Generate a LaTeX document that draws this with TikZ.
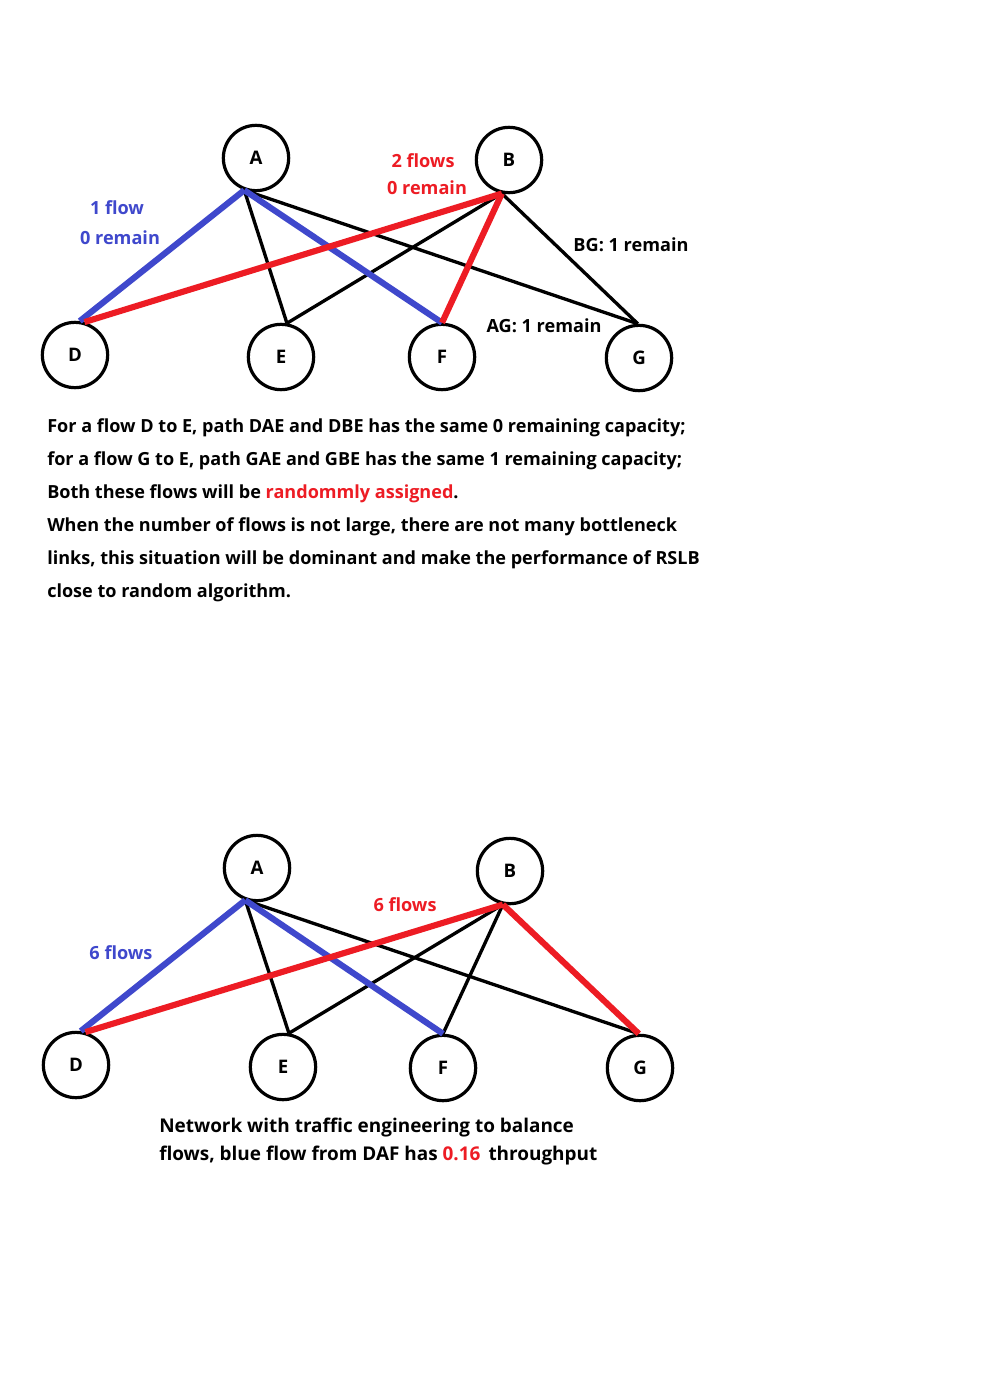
\documentclass[tikz,border=0pt]{standalone}
\usepackage{fontspec}
\setmainfont{Open Sans}
\definecolor{pblue}{HTML}{3F48CC}
\definecolor{pred}{HTML}{ED1C24}
\begin{document}
\begin{tikzpicture}[x=0.75pt,y=-0.75pt,
  vert/.style={circle,draw=black,line width=2.4pt,minimum size=49pt,inner sep=0pt,font=\fontsize{14}{16}\selectfont\bfseries},
  thin/.style={draw=black,line width=2.5pt},
  bluef/.style={draw=pblue,line width=4.6pt},
  redf/.style={draw=pred,line width=4.6pt},
  lbl/.style={inner sep=0pt,font=\fontsize{13.6}{16}\selectfont\bfseries},
  blbl/.style={inner sep=0pt,font=\fontsize{13.6}{16}\selectfont\bfseries},
  para/.style={inner sep=0pt,anchor=west,font=\fontsize{13.55}{16}\selectfont\bfseries},
  capt/.style={inner sep=0pt,anchor=west,font=\fontsize{14.2}{16}\selectfont\bfseries}]
\useasboundingbox[fill=white] (0,0) rectangle (986,1391);
% ---------- top graph ----------
\node[vert] (A) at (256,158) {A};
\node[vert] (B) at (509,160) {B};
\node[vert] (D) at (75,355) {D};
\node[vert] (E) at (281,357) {E};
\node[vert] (F) at (442,357) {F};
\node[vert] (G) at (639,358) {G};
\path[thin] (A.250) -- (E.80);
\path[thin] (A.250) -- (G.92);
\path[thin] (B.258) -- (E.80);
\path[thin] (B.258) -- (G.92);
\path[bluef] (A.250) -- (D.82);
\path[bluef] (A.250) -- (F.90);
\path[redf] (B.258) -- (D.74);
\path[redf] (B.258) -- (F.90);
\node[lbl,text=pblue] (l1) at (117,208) {1 flow};
\node[blbl,text=pblue] (l2) at (120,238) {0 remain};
\node[lbl,text=pred] (l3) at (423,161) {2 flows};
\node[blbl,text=pred] (l4) at (427,188) {0 remain};
\node[blbl] (l5) at (631,245) {BG: 1 remain};
\node[blbl] (l6) at (544,326) {AG: 1 remain};
% ---------- paragraph ----------
\node[para] (p1) at (47,428) {For a flow D to E, path DAE and DBE has the same 0 remaining capacity;};
\node[para] (p2) at (47,461) {for a flow G to E, path GAE and GBE has the same 1 remaining capacity;};
\node[para] (p3) at (47,494) {Both these flows will be \textcolor{pred}{randommly assigned}.};
\node[para] (p4) at (47,527) {When the number of flows is not large, there are not many bottleneck};
\node[para] (p5) at (47,560) {links, this situation will be dominant and make the performance of RSLB};
\node[para] (p6) at (47,593) {close to random algorithm.};
% ---------- bottom graph ----------
\node[vert] (A2) at (257,868) {A};
\node[vert] (B2) at (510,871) {B};
\node[vert] (D2) at (76,1065) {D};
\node[vert] (E2) at (283,1067) {E};
\node[vert] (F2) at (443,1068) {F};
\node[vert] (G2) at (640,1068) {G};
\path[thin] (A2.250) -- (E2.80);
\path[thin] (A2.250) -- (G2.92);
\path[thin] (B2.258) -- (E2.80);
\path[thin] (B2.258) -- (F2.90);
\path[bluef] (A2.250) -- (D2.82);
\path[bluef] (A2.250) -- (F2.90);
\path[redf] (B2.258) -- (D2.74);
\path[redf] (B2.258) -- (G2.92);
\node[lbl,text=pred] (m1) at (405,905) {6 flows};
\node[lbl,text=pblue] (m2) at (121,953) {6 flows};
\node[capt] (c1) at (159,1128) {Network with traffic engineering to balance};
\node[capt] (c2) at (159,1156) {flows, blue flow from DAF has \textcolor{pred}{0.16}\, throughput};
\end{tikzpicture}
\end{document}
